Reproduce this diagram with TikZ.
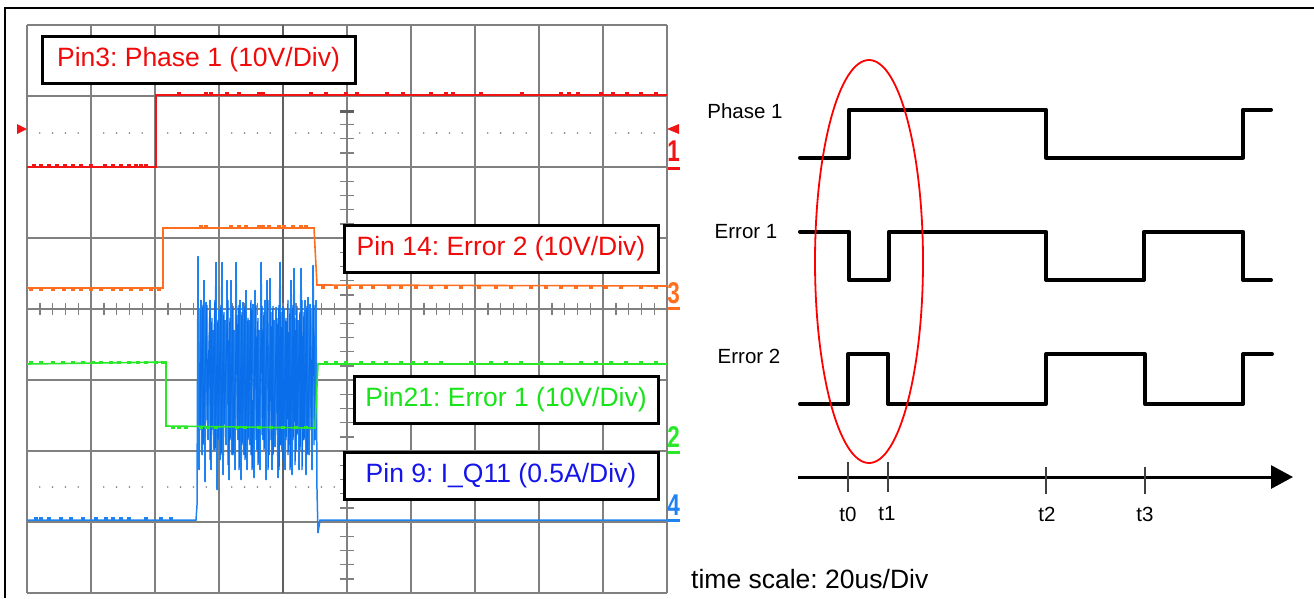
\documentclass[tikz,border=0pt]{standalone}
\usepackage{fontspec}
\setmainfont{Liberation Sans}
\usetikzlibrary{arrows.meta}
\frenchspacing
\definecolor{gridgray}{RGB}{128,128,128}
\definecolor{griddark}{RGB}{95,95,95}
\definecolor{tred}{RGB}{240,20,20}
\definecolor{torange}{RGB}{255,110,30}
\definecolor{tgreen}{RGB}{40,232,40}
\definecolor{tblue}{RGB}{30,130,240}
\definecolor{tbluedark}{RGB}{10,110,235}
\definecolor{lblue}{RGB}{20,20,235}
\definecolor{lgreen}{RGB}{25,228,25}
\definecolor{lred}{RGB}{240,10,10}
\tikzset{
  gridline/.style={draw=gridgray, line width=1.6pt},
  tickline/.style={draw=gridgray, line width=1.4pt},
  trace/.style={line width=1.6pt, line join=miter},
  glitch/.style={line width=1.2pt},
  lbox/.style={draw=black, line width=3pt, fill=white, inner sep=0pt,
    font=\fontsize{26.5}{30}\selectfont, minimum height=47pt},
  chdigit/.style={font=\bfseries\fontsize{30}{32}\selectfont, inner sep=0pt},
  wave/.style={line width=4pt, line cap=round, line join=round},
  wlabel/.style={font=\fontsize{20.5}{24}\selectfont, inner sep=0pt},
  tmark/.style={draw=black!75, line width=1.1pt},
}
\begin{document}
\begin{tikzpicture}[x=1pt,y=-1pt]
\useasboundingbox (0,0) rectangle (1314,598);
% outer frame lines
\draw[line width=1.5pt] (5,598) -- (5,8) -- (1314,8);

% ---------- scope grid ----------
\foreach \i in {0,...,10} \draw[gridline] ({27+64*\i},25) -- ({27+64*\i},593);
\foreach \j in {0,...,8} \draw[gridline] (27,{25+71*\j}) -- (667,{25+71*\j});
\draw[draw=griddark, line width=2.6pt] (283,25) -- (283,593);
% centre axes ticks
\foreach \k in {1,...,39} \draw[tickline] (340,{25+14.2*\k}) -- (354,{25+14.2*\k});
\draw[draw=griddark, line width=3pt] (340,111) -- (354,111);
\foreach \k in {1,...,49} \draw[tickline] ({27+12.8*\k},303) -- ({27+12.8*\k},315);
% dotted level lines
\foreach \k in {1,...,49} {
  \pgfmathtruncatemacro\m{mod(\k,5)}
  \ifnum\m>0
    \fill[gridgray] ({27+12.8*\k},133) circle (0.9pt);
    \fill[gridgray] ({27+12.8*\k},487) circle (0.9pt);
  \fi
}

% ---------- traces ----------
% Phase 1 (red)
\draw[trace, tred] (27,167) -- (156,167) -- (156,95) -- (667,95);
\foreach \x in {178,205,210,226,238,258,262,310,325,345,356,386,402,430,445,452,480,521,560,568,577,600,612,626,640,655}
  \draw[tred, glitch] (\x,95) -- (\x,92.5) -- ({\x+2},92.5) -- ({\x+2},95);
\foreach \x in {33,40,48,56,64,72,80,90,104,112,120,128,135,140,145}
  \draw[tred, glitch] (\x,167) -- (\x,165) -- ({\x+2},165) -- ({\x+2},167);
% Error 2 (orange)
\draw[trace, torange] (27,288) -- (163,288) -- (163,228) -- (314,228) -- (317,285) -- (667,286);
\foreach \x in {30,40,52,63,72,80,90,100,112,120,130,140,150,158}
  \draw[torange, glitch] (\x,288) -- (\x,290) -- ({\x+2},290) -- ({\x+2},288);
\foreach \x in {200,205,230,238,245,258,262,268,278,283,292,300,305}
  \draw[torange, glitch] (\x,228) -- (\x,225.5) -- ({\x+2},225.5) -- ({\x+2},228);
\foreach \x in {322,335,348,360,372,388,400,415,430,445,460,478,495,510,530,545,560,575,590,605,620,640,655}
  \draw[torange, glitch] (\x,286) -- (\x,288.5) -- ({\x+2},288.5) -- ({\x+2},286);
% I_Q11 (blue)
\draw[trace, tblue, line width=1.5pt] (27,520) -- (196,520) -- (197,505) -- (198,256) -- (199,470) -- (201,300) -- (202,455) -- (204,280) -- (205,482) -- (206,302) -- (208,440) -- (210,300) -- (211,470) -- (213,330) -- (214,450) -- (216,262) -- (217,490) -- (219,310) -- (220,460) -- (222,262) -- (223,475) -- (225,320) -- (226,445) -- (227,280) -- (229,480) -- (231,280) -- (232,455) -- (234,330) -- (235,470) -- (236,262) -- (238,440) -- (240,300) -- (241,480) -- (243,302) -- (244,455) -- (246,290) -- (247,470) -- (249,320) -- (250,445) -- (253,304) -- (254,478) -- (255,290) -- (257,450) -- (259,330) -- (260,470) -- (261,262) -- (263,440) -- (265,300) -- (266,480) -- (267,280) -- (269,455) -- (270,278) -- (272,470) -- (274,320) -- (275,447) -- (276,307) -- (278,478) -- (280,262) -- (282,450) -- (284,308) -- (285,470) -- (287,330) -- (289,445) -- (291,280) -- (292,475) -- (294,268) -- (296,450) -- (298,320) -- (299,470) -- (301,268) -- (303,440) -- (305,300) -- (306,475) -- (308,297) -- (309,455) -- (310,304) -- (312,470) -- (313,265) -- (315,440) -- (316,300) -- (317,490) -- (318,533) -- (320,520) -- (667,520);
% denser inner band of the current bursts
\draw[tbluedark, line width=1.4pt] (200,310) -- (200,430) -- (203,305) -- (203,445) -- (207,305) -- (207,420) -- (210,312) -- (210,460) -- (212,318) -- (212,430) -- (215,300) -- (215,450) -- (218,320) -- (218,440) -- (221,305) -- (221,455) -- (224,312) -- (224,425) -- (228,300) -- (228,465) -- (230,318) -- (230,440) -- (233,306) -- (233,455) -- (237,315) -- (237,430) -- (239,305) -- (239,470) -- (242,312) -- (242,445) -- (245,306) -- (245,460) -- (248,318) -- (248,440) -- (251,300) -- (251,455) -- (252,310) -- (252,470) -- (256,305) -- (256,440) -- (258,318) -- (258,465) -- (262,306) -- (262,435) -- (264,312) -- (264,450) -- (268,300) -- (268,470) -- (271,312) -- (271,440) -- (273,306) -- (273,455) -- (277,318) -- (277,430) -- (279,305) -- (279,470) -- (281,312) -- (281,445) -- (283,306) -- (283,460) -- (286,318) -- (286,440) -- (288,300) -- (288,455) -- (290,310) -- (290,470) -- (293,305) -- (293,440) -- (295,318) -- (295,465) -- (297,306) -- (297,435) -- (300,312) -- (300,450) -- (302,300) -- (302,470) -- (304,312) -- (304,440) -- (307,306) -- (307,455) -- (311,310) -- (311,430) -- (314,305) -- (314,445);
\foreach \x in {35,40,48,60,70,82,95,105,112,120,128,145,160,170}
  \draw[tblue, glitch] (\x,520) -- (\x,517.5) -- ({\x+2},517.5) -- ({\x+2},520);
% Error 1 (green)
\draw[trace, tgreen] (27,364) -- (166,362) -- (166,426) -- (315,428) -- (318,364) -- (667,364);
\foreach \x in {30,40,52,62,72,82,92,100,110,118,128,137,145,155,162}
  \draw[tgreen, glitch] (\x,364) -- (\x,361.5) -- ({\x+2},361.5) -- ({\x+2},364);
\foreach \x in {172,178,185,200,206,215,236,244,258,270,282,295,305}
  \draw[tgreen, glitch] (\x,426) -- (\x,428.5) -- ({\x+2},428.5) -- ({\x+2},426);
\foreach \x in {325,335,345,360,372,385,400,412,425,440,470,490,505,520,540,560,580,595,610,625,640,655}
  \draw[tgreen, glitch] (\x,364) -- (\x,361.5) -- ({\x+2},361.5) -- ({\x+2},364);

% channel markers
\fill[tred] (17,124) -- (27,129) -- (17,134) -- cycle;
\fill[tred] (667,129) -- (679,124) -- (679,134) -- cycle;
\node[chdigit, text=tred] (c1) at (673.5,151) {\scalebox{0.75}[1]{1}};
\draw[tred, line width=3pt] (668,168) -- (680,168);
\node[chdigit, text=torange] (c3) at (673.5,293) {\scalebox{0.75}[1]{3}};
\draw[torange, line width=3pt] (668,308) -- (680,308);
\node[chdigit, text=tgreen] (c2) at (673.5,437) {\scalebox{0.75}[1]{2}};
\draw[tgreen, line width=3pt] (668,452) -- (680,452);
\node[chdigit, text=tblue] (c4) at (673.5,505) {\scalebox{0.75}[1]{4}};
\draw[tblue, line width=3pt] (668,520) -- (680,520);

% label boxes
\node[lbox, minimum width=313pt, text=lred] (b1) at (198.5,59.5) {Pin3: Phase 1 (10V/Div)};
\node[lbox, minimum width=314pt, text=lred] (b2) at (501,249) {Pin 14: Error 2 (10V/Div)};
\node[lbox, minimum width=304pt, text=lgreen] (b3) at (506,400) {Pin21: Error 1 (10V/Div)};
\node[lbox, minimum width=314pt, text=lblue] (b4) at (501,475.5) {Pin 9: I\_Q11 (0.5A/Div)};

% ---------- timing diagram ----------
\node[wlabel] (lp1) at (745,111) {Phase 1};
\node[wlabel] (le1) at (746,232) {Error 1};
\node[wlabel] (le2) at (749,356) {Error 2};

\draw[wave] (800,157.7) -- (849,157.7) -- (849,109.5) -- (1046,109.5) -- (1046,157.7) -- (1243,157.7) -- (1243,109.5) -- (1271,109.5);
\draw[wave] (800,231.7) -- (849,231.7) -- (849,280) -- (889,280) -- (889,231.7) -- (1046,231.7) -- (1046,280) -- (1144,280) -- (1144,231.7) -- (1243,231.7) -- (1243,280) -- (1271,280);
\draw[wave] (800,404) -- (848,404) -- (848,354) -- (888,354) -- (888,404) -- (1046,404) -- (1046,354) -- (1145,354) -- (1145,404) -- (1243,404) -- (1243,354) -- (1272,354);

% time axis
\coordinate (ax0) at (798,477);
\coordinate (ax1) at (1293,477);
\draw[line width=3pt, -{Triangle[length=22pt,width=23pt]}] (ax0) -- (ax1);
\draw[tmark] (848,462) -- (848,492);
\draw[tmark] (888,462) -- (888,492);
\draw[tmark] (1046,467) -- (1046,494);
\draw[tmark] (1145,467) -- (1145,494);
\node[wlabel] (t0) at (848,514) {t0};
\node[wlabel] (t1) at (887,514) {t1};
\node[wlabel] (t2) at (1047,514) {t2};
\node[wlabel] (t3) at (1145,514) {t3};

% red ellipse
\draw[red, line width=1.8pt] (869,261.5) ellipse [x radius=54pt, y radius=201.5pt];

\node[anchor=west, inner sep=0pt, font=\fontsize{26.5}{30}\selectfont] (ts) at (691,579) {time scale: 20us/Div};
\end{tikzpicture}
\end{document}
